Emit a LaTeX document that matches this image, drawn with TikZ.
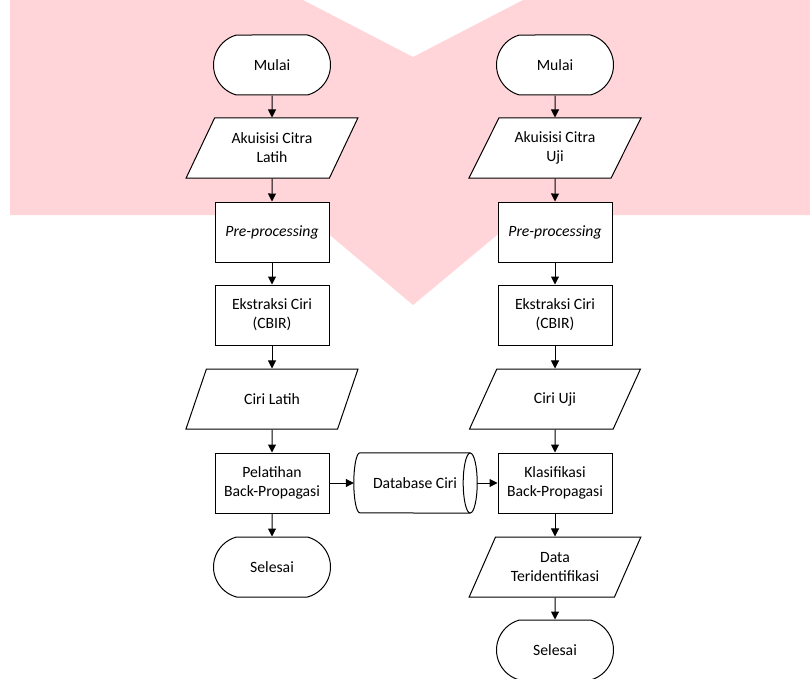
\documentclass[tikz,border=0pt]{standalone}
\usepackage{fontspec}
\setmainfont{Carlito}
\usetikzlibrary{shapes.geometric,shapes.misc,arrows.meta}
\definecolor{wm}{HTML}{FFD5D9}
\begin{document}
\begin{tikzpicture}[x=1pt,y=-1pt,
  font=\fontsize{15.7}{19}\selectfont,
  base/.style={draw=black, line width=1pt, fill=white, align=center, inner sep=2pt},
  term/.style={base, rounded rectangle, rounded rectangle arc length=150, minimum width=121pt, minimum height=60pt},
  proc/.style={base, rectangle, minimum width=114pt, minimum height=60pt},
  io/.style={base, trapezium, trapezium left angle=58.3, trapezium right angle=121.7, trapezium stretches=true, minimum width=172pt, minimum height=60pt},
  arr/.style={line width=1pt, -{Triangle[length=8pt,width=8pt]}},
  dbline/.style={line width=1pt}
]
\useasboundingbox (0,0) rectangle (810,679);
% watermark
\fill[wm] (10,0) -- (303,0) -- (413,57) -- (523,0) -- (810,0) -- (810,215) -- (521,215) -- (413,305) -- (306,215) -- (10,215) -- cycle;

% left column
\node[term] (m1) at (272,65) {Mulai};
\node[io]   (a1) at (272,148) {Akuisisi Citra\\Latih};
\node[proc] (p1) at (272,232) {\textit{Pre-processing}};
\node[proc] (e1) at (272,315) {Ekstraksi Ciri\\(CBIR)};
\node[io]   (c1) at (272,399) {Ciri Latih};
\node[proc] (l1) at (272,483) {Pelatihan\\Back-Propagasi};
\node[term] (s1) at (272,567) {Selesai};

% right column
\node[term] (m2) at (555,65) {Mulai};
\node[io]   (a2) at (555,148) {Akuisisi Citra\\Uji};
\node[proc] (p2) at (555,232) {\textit{Pre-processing}};
\node[proc] (e2) at (555,315) {Ekstraksi Ciri\\(CBIR)};
\node[io]   (c2) at (555,399) {Ciri Uji};
\node[proc] (k2) at (555,483) {Klasifikasi\\Back-Propagasi};
\node[io]   (d2) at (555,567) {Data\\Teridentifikasi};
\node[term] (s2) at (555,650) {Selesai};

% database
\node[minimum width=110pt, minimum height=60pt, inner sep=0pt] (db) at (415,483) {Database Ciri};
\draw[dbline] (db.north east) -- (db.north west) arc[start angle=90, end angle=270, x radius=6pt, y radius=30pt] -- (db.south east);
\draw[dbline] (db.east) ellipse[x radius=7pt, y radius=30pt];

% connectors
\draw[arr] (m1) -- (a1);
\draw[arr] (a1) -- (p1);
\draw[arr] (p1) -- (e1);
\draw[arr] (e1) -- (c1);
\draw[arr] (c1) -- (l1);
\draw[arr] (l1) -- (s1);
\draw[arr] (m2) -- (a2);
\draw[arr] (a2) -- (p2);
\draw[arr] (p2) -- (e2);
\draw[arr] (e2) -- (c2);
\draw[arr] (c2) -- (k2);
\draw[arr] (k2) -- (d2);
\draw[arr] (d2) -- (s2);
\draw[arr] (l1) -- ([xshift=-6pt]db.west);
\draw[arr] ([xshift=7pt]db.east) -- (k2);
\end{tikzpicture}
\end{document}
